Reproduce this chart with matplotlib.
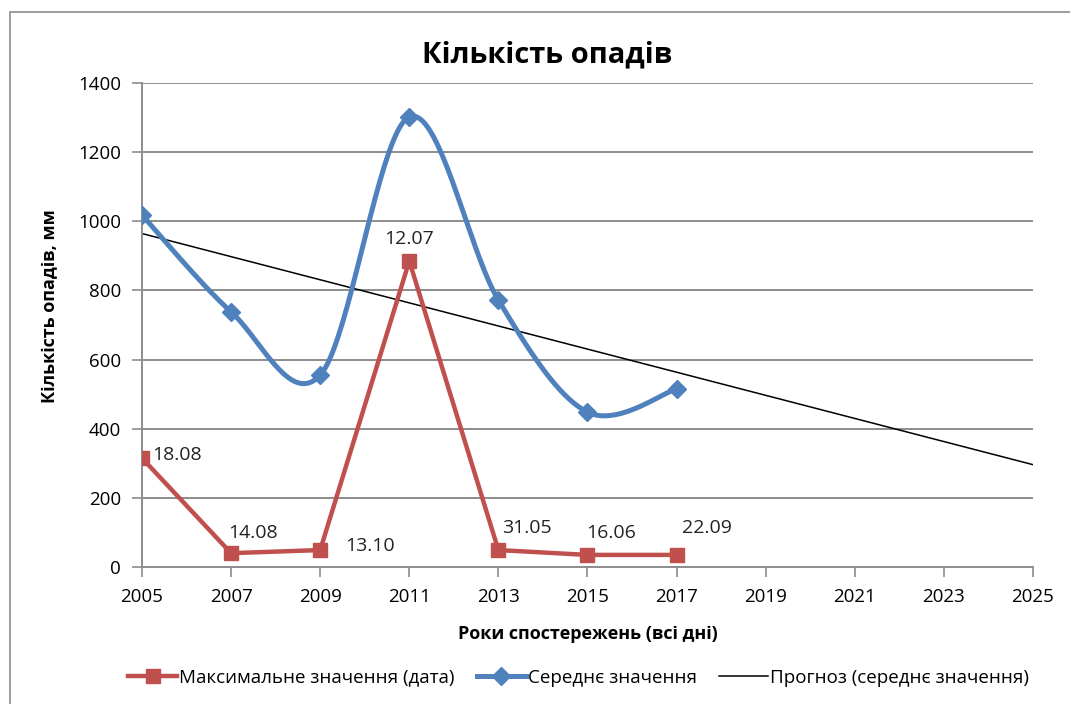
import numpy as np
import matplotlib
matplotlib.use("Agg")
import matplotlib.pyplot as plt
from matplotlib.patches import Rectangle

plt.rcParams['font.family'] = ['Open Sans', 'DejaVu Sans']

# дані
years = [2005, 2007, 2009, 2011, 2013, 2015, 2017]
avg_vals = [1018, 738, 555, 1302, 772, 448, 515]
max_vals = [315, 40, 49, 885, 49, 35, 35]
max_dates = ["18.08", "14.08", "13.10", "12.07", "31.05", "16.06", "22.09"]
label_offsets = [(10, 3), (22, 20), (50, 4), (0, 22), (28, 22), (24, 22), (30, 27)]
label_align = ["left", "center", "center", "center", "center", "center", "center"]
forecast_years = [2005, 2025]

RED = "#C0504D"
BLUE = "#4F81BD"


def smooth(xs, ys, n=40):
    # згладжування як в Excel (Catmull-Rom через Безьє)
    xs = np.asarray(xs, float)
    ys = np.asarray(ys, float)
    px = np.concatenate([[xs[0]], xs, [xs[-1]]])
    py = np.concatenate([[ys[0]], ys, [ys[-1]]])
    out_x, out_y = [], []
    t = np.linspace(0, 1, n)
    for i in range(1, len(px) - 2):
        p0 = np.array([px[i], py[i]])
        p3 = np.array([px[i + 1], py[i + 1]])
        c1 = p0 + (p3 - np.array([px[i - 1], py[i - 1]])) / 6
        c2 = p3 - (np.array([px[i + 2], py[i + 2]]) - p0) / 6
        b = ((1 - t) ** 3)[:, None] * p0 + (3 * (1 - t) ** 2 * t)[:, None] * c1 \
            + (3 * (1 - t) * t ** 2)[:, None] * c2 + (t ** 3)[:, None] * p3
        out_x.extend(b[:, 0])
        out_y.extend(b[:, 1])
    return out_x, out_y


fig = plt.figure(figsize=(10.7, 7.04), dpi=100)
ax = fig.add_axes([0.1327, 0.1946, 0.8327, 0.6875])

# рамка діаграми
fig.patches.append(Rectangle((10 / 1070, -0.1), 1.2, 1 - 12 / 704 + 0.1,
                             transform=fig.transFigure, fill=False,
                             edgecolor="#8c8c8c", lw=1.2))

for y in range(200, 1401, 200):
    ax.axhline(y, color="#8c8c8c", lw=1.4, zorder=0)

sx, sy = smooth(years, avg_vals)
ax.plot(sx, sy, color=BLUE, lw=3.6, zorder=3)
ax.plot(years, avg_vals, color=BLUE, lw=0, marker="D", ms=9, zorder=4)
ax.plot([], [], color=BLUE, lw=3.6, marker="D", ms=9, label="Середнє значення")

ax.plot(years, max_vals, color=RED, lw=3.2, marker="s", ms=10, zorder=3,
        label="Максимальне значення (дата)")

coef = np.polyfit(years, avg_vals, 1)
fx = np.array(forecast_years)
ax.plot(fx, np.polyval(coef, fx), color="black", lw=1.1, zorder=2,
        label="Прогноз (середнє значення)")

for x, y, txt, off, ha in zip(years, max_vals, max_dates, label_offsets, label_align):
    ax.annotate(txt, (x, y), xytext=off, textcoords="offset pixels",
                ha=ha, va="center", fontsize=14, color="#222222")

ax.set_xlim(2005, 2025)
ax.set_ylim(0, 1400)
ax.set_xticks(range(2005, 2026, 2))
ax.set_yticks(range(0, 1401, 200))
ax.tick_params(labelsize=13.5, colors="#8c8c8c", labelcolor="black", length=7, width=1.2, pad=8)
for s in ["top", "right"]:
    ax.spines[s].set_visible(False)
for s in ["left", "bottom"]:
    ax.spines[s].set_color("#8c8c8c")
    ax.spines[s].set_linewidth(1.4)

fig.text(547 / 1070, 1 - 55 / 704, "Кількість опадів", fontsize=21, fontweight="bold",
         ha="center", va="center")
ax.set_xlabel("Роки спостережень (всі дні)", fontsize=13, fontweight="bold", labelpad=14)
ax.set_ylabel("Кількість опадів, мм", fontsize=13, fontweight="bold")
ax.yaxis.set_label_coords(-0.093, 0.54)

h, l = ax.get_legend_handles_labels()
order = [1, 0, 2]
ax.legend([h[i] for i in order], [l[i] for i in order], loc="upper center",
          bbox_to_anchor=(0.49, -0.175), ncol=3, frameon=False, fontsize=13.5,
          handlelength=2.6, handletextpad=0.1, columnspacing=1.2)

fig.savefig("out.png", dpi=100)
